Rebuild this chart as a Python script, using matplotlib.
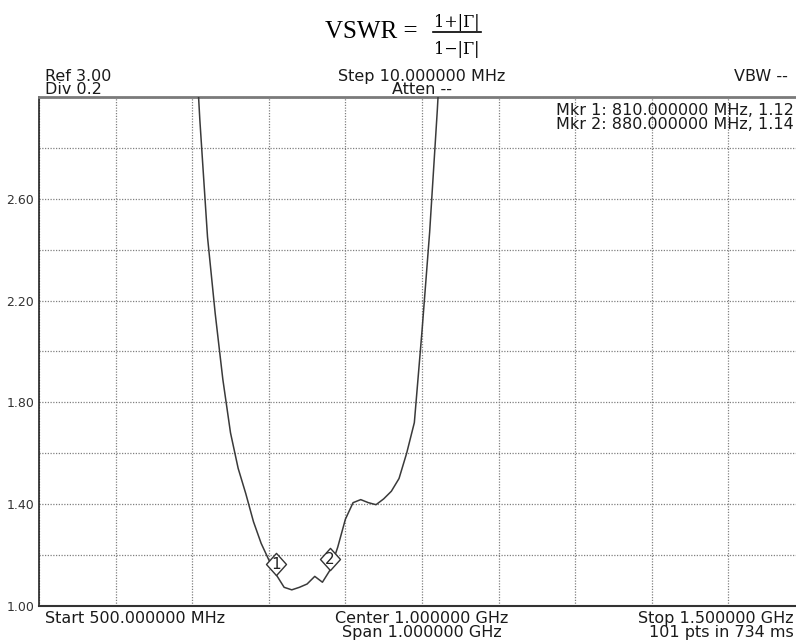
import matplotlib
matplotlib.use("Agg")
import matplotlib.pyplot as plt
from matplotlib.lines import Line2D
from matplotlib.path import Path
from matplotlib.transforms import offset_copy

# trace, 10 MHz per point (only the part inside the window)
freq_mhz = [700, 710, 720, 730, 740, 750, 760, 770, 780, 790, 800,
            810, 820, 830, 840, 850, 860, 870, 880, 890, 900, 910,
            920, 930, 940, 950, 960, 970, 980, 990, 1000, 1010, 1020, 1030]
vswr = [3.45, 2.91, 2.45, 2.15, 1.89, 1.68, 1.54, 1.44, 1.33, 1.245, 1.18,
        1.12, 1.072, 1.062, 1.072, 1.085, 1.115, 1.092, 1.14, 1.23, 1.34, 1.405,
        1.417, 1.405, 1.397, 1.42, 1.45, 1.50, 1.60, 1.72, 2.08, 2.47, 2.95, 3.5]

marker_freq = [810, 880]
marker_vswr = [1.12, 1.14]
marker_ids = ["1", "2"]

ygrid = [1.0, 1.2, 1.4, 1.6, 1.8, 2.0, 2.2, 2.4, 2.6, 2.8, 3.0]
ylabels = ["1.00", "", "1.40", "", "1.80", "", "2.20", "", "2.60", "", ""]
xgrid = [500, 600, 700, 800, 900, 1000, 1100, 1200, 1300, 1400, 1500]

W, H = 796, 640
fig = plt.figure(figsize=(W / 100, H / 100), dpi=100)


def fx(x):
    return x / W


def fy(y):
    return 1 - y / H


# axes runs past the right edge, like the cropped screenshot
ax = fig.add_axes([fx(39), fy(605.6), (805 - 39) / W, (605.6 - 97.3) / H])
ax.set_xlim(500, 1500)
ax.set_ylim(1.0, 3.0)
ax.set_xticks(xgrid)
ax.set_xticklabels([])
ax.set_yticks(ygrid)
ax.set_yticklabels(ylabels, fontsize=9, color="#333333", family="DejaVu Sans")
ax.tick_params(length=0, pad=3.5)
ax.grid(True, color="#808080", linestyle=(0, (1, 1.2)), linewidth=0.9)
ax.set_axisbelow(True)

ax.spines["top"].set_color("#7a7a7a")
ax.spines["top"].set_linewidth(2.0)
ax.spines["left"].set_color("#222222")
ax.spines["left"].set_linewidth(1.2)
ax.spines["bottom"].set_color("#333333")
ax.spines["bottom"].set_linewidth(1.5)
ax.spines["right"].set_visible(False)

ax.plot(freq_mhz, vswr, color="#3a3a3a", linewidth=1.1, zorder=3)

# diamond markers sit with their bottom tip on the trace
diamond = Path([(0, -1), (0.9, 0), (0, 1), (-0.9, 0), (0, -1)],
               [Path.MOVETO, Path.LINETO, Path.LINETO, Path.LINETO, Path.CLOSEPOLY])
mk_tr = offset_copy(ax.transData, fig=fig, x=0, y=11, units="dots")
for f, v, n in zip(marker_freq, marker_vswr, marker_ids):
    ax.plot([f], [v], marker=diamond, markersize=16, markerfacecolor="white",
            markeredgecolor="#333333", markeredgewidth=1.0, transform=mk_tr,
            zorder=4, clip_on=False)
    ax.text(f, v, n, transform=mk_tr, ha="center", va="center", fontsize=11,
            color="#222222", zorder=5, family="DejaVu Sans")

font = dict(family="DejaVu Sans", fontsize=11.5, color="#1a1a1a")

# header
fig.text(fx(45), fy(81), "Ref 3.00", ha="left", va="baseline", **font)
fig.text(fx(45), fy(94.5), "Div 0.2", ha="left", va="baseline", **font)
fig.text(fx(422), fy(81), "Step 10.000000 MHz", ha="center", va="baseline", **font)
fig.text(fx(422), fy(94.5), "Atten --", ha="center", va="baseline", **font)
fig.text(fx(788), fy(81), "VBW --", ha="right", va="baseline", **font)

fig.text(fx(794), fy(115), "Mkr 1: 810.000000 MHz, 1.12", ha="right", va="baseline", **font)
fig.text(fx(794), fy(129), "Mkr 2: 880.000000 MHz, 1.14", ha="right", va="baseline", **font)

# footer
fig.text(fx(45), fy(623), "Start 500.000000 MHz", ha="left", va="baseline", **font)
fig.text(fx(422), fy(623), "Center 1.000000 GHz", ha="center", va="baseline", **font)
fig.text(fx(422), fy(637.5), "Span 1.000000 GHz", ha="center", va="baseline", **font)
fig.text(fx(794), fy(623), "Stop 1.500000 GHz", ha="right", va="baseline", **font)
fig.text(fx(794), fy(637.5), "101 pts in 734 ms", ha="right", va="baseline", **font)

# formula on top
fig.text(fx(325), fy(38), "VSWR =", ha="left", va="baseline",
         family="Liberation Serif", fontsize=18, color="black")
frac = dict(family="DejaVu Serif", fontsize=11.5, color="black", ha="center", va="baseline")
fig.text(fx(457), fy(27), "1+|\u0393|", **frac)
fig.text(fx(457), fy(54), "1\u2212|\u0393|", **frac)
fig.add_artist(Line2D([fx(433), fx(481)], [fy(31.7), fy(31.7)],
                      color="black", linewidth=1.2))

fig.savefig("out.png", dpi=100)
